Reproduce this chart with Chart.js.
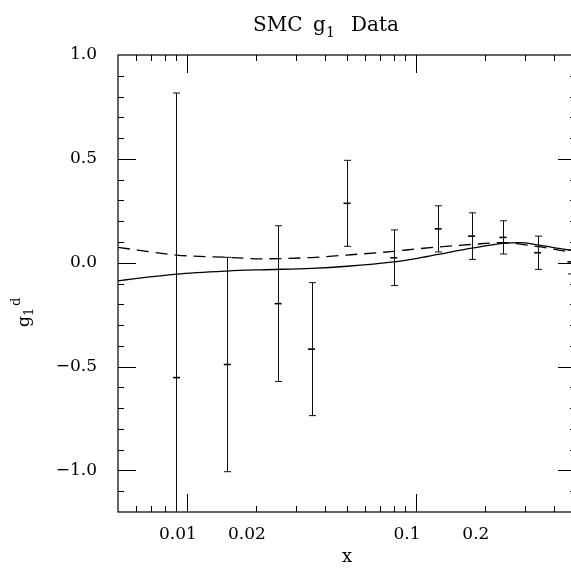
<!DOCTYPE html>
<html lang="en">
<head>
  <meta charset="UTF-8" />
  <title>SMC g1 Data</title>
  <style>
    html, body { margin: 0; padding: 0; background: #fff; overflow: hidden; }
    .wrap { width: 571px; height: 571px; overflow: hidden; }
  </style>
</head>
<body>
  <div class="wrap"><canvas id="chart" width="590" height="571"></canvas></div>

  <script src="https://cdn.jsdelivr.net/npm/chart.js"></script>
  <script>
    // SMC deuteron data: x, g1 and error
    const xData = [0.009, 0.015, 0.025, 0.035, 0.05, 0.08, 0.125, 0.175, 0.24, 0.34, 0.475];
    const g1Data = [-0.553, -0.49, -0.197, -0.416, 0.286, 0.024, 0.163, 0.128, 0.122, 0.048, 0.004];
    const g1Err = [1.37, 0.516, 0.375, 0.32, 0.207, 0.134, 0.111, 0.112, 0.08, 0.08, 0.058];

    // model curves
    const curveX = [0.005, 0.009, 0.015, 0.021, 0.035, 0.05, 0.08, 0.1, 0.125, 0.175, 0.24, 0.285, 0.34, 0.4, 0.475, 0.5];
    const solidCurve = [-0.087, -0.055, -0.04, -0.034, -0.027, -0.017, 0.004, 0.02, 0.04, 0.07, 0.093, 0.097, 0.086, 0.073, 0.06, 0.055];
    const dashedCurve = [0.074, 0.037, 0.026, 0.019, 0.025, 0.037, 0.055, 0.066, 0.076, 0.088, 0.097, 0.09, 0.078, 0.066, 0.05, 0.045];

    const xTickLabels = [0.01, 0.02, 0.1, 0.2];
    const yTickLabels = [-1.0, -0.5, 0.0, 0.5, 1.0];

    const X_MIN = 0.005, X_MAX = 0.5, Y_MIN = -1.2, Y_MAX = 1.0;
    const FONT = '"DejaVu Serif", "Liberation Serif", serif';

    const toPts = (xs, ys) => xs.map((x, i) => ({ x: x, y: ys[i] }));

    // frame, inward ticks, error bars, title and y label
    const decorPlugin = {
      id: 'decor',
      afterDatasetsDraw(chart) {
        const ctx = chart.ctx;
        const a = chart.chartArea;
        const xs = chart.scales.x, ys = chart.scales.y;
        ctx.save();

        // error bars
        ctx.beginPath();
        ctx.rect(a.left, a.top, a.right - a.left, a.bottom - a.top);
        ctx.clip();
        ctx.strokeStyle = '#111';
        ctx.lineWidth = 1;
        xData.forEach((xv, i) => {
          const px = Math.round(xs.getPixelForValue(xv)) + 0.5;
          const hi = g1Data[i] + g1Err[i], lo = g1Data[i] - g1Err[i];
          const pTop = ys.getPixelForValue(hi), pBot = ys.getPixelForValue(lo);
          ctx.beginPath();
          ctx.moveTo(px, pTop);
          ctx.lineTo(px, pBot);
          if (hi <= Y_MAX) { ctx.moveTo(px - 3.5, pTop); ctx.lineTo(px + 3.5, pTop); }
          if (lo >= Y_MIN) { ctx.moveTo(px - 3.5, pBot); ctx.lineTo(px + 3.5, pBot); }
          ctx.stroke();
        });
        ctx.restore();

        ctx.save();
        ctx.strokeStyle = '#000';
        ctx.lineWidth = 1.2;
        ctx.strokeRect(a.left, a.top, a.right - a.left, a.bottom - a.top);

        // x ticks (log), top and bottom
        ctx.lineWidth = 1;
        ctx.beginPath();
        [0.001, 0.01, 0.1, 1].forEach(d => {
          for (let m = 1; m <= 9; m++) {
            const v = m * d;
            if (v <= X_MIN * 1.0001 || v >= X_MAX * 0.9999) continue;
            const px = Math.round(xs.getPixelForValue(v)) + 0.5;
            const len = m === 1 ? 18 : 6;
            ctx.moveTo(px, a.bottom); ctx.lineTo(px, a.bottom - len);
            ctx.moveTo(px, a.top); ctx.lineTo(px, a.top + len);
          }
        });
        // y ticks, left and right
        for (let k = -12; k <= 10; k++) {
          const v = k / 10;
          if (k === -12 || k === 10) continue;
          const py = Math.round(ys.getPixelForValue(v)) + 0.5;
          const len = k % 5 === 0 ? 18 : 6;
          ctx.moveTo(a.left, py); ctx.lineTo(a.left + len, py);
          ctx.moveTo(a.right, py); ctx.lineTo(a.right - len, py);
        }
        ctx.stroke();

        // title: SMC g_1 Data
        ctx.fillStyle = '#000';
        ctx.textBaseline = 'alphabetic';
        ctx.textAlign = 'left';
        ctx.font = '20px ' + FONT;
        ctx.fillText('SMC', 253, 31);
        ctx.fillText('g', 313, 31);
        ctx.fillText('Data', 351, 31);
        ctx.font = '14px ' + FONT;
        ctx.fillText('1', 326, 37);

        // y label: g_1^d, rotated
        ctx.translate(29, 327);
        ctx.rotate(-Math.PI / 2);
        ctx.font = '17px ' + FONT;
        ctx.fillText('g', 0, 0);
        ctx.font = '13px ' + FONT;
        ctx.fillText('1', 11, 4);
        ctx.fillText('d', 21, -9);
        ctx.restore();
      }
    };

    const ctx = document.getElementById('chart').getContext('2d');
    new Chart(ctx, {
      type: 'scatter',
      data: {
        datasets: [
          {
            label: 'solid',
            data: toPts(curveX, solidCurve),
            showLine: true,
            borderColor: '#000',
            borderWidth: 1.3,
            pointRadius: 0,
            cubicInterpolationMode: 'monotone'
          },
          {
            label: 'dashed',
            data: toPts(curveX, dashedCurve),
            showLine: true,
            borderColor: '#000',
            borderWidth: 1.3,
            borderDash: [12, 7],
            pointRadius: 0,
            cubicInterpolationMode: 'monotone'
          },
          {
            label: 'SMC',
            data: toPts(xData, g1Data),
            showLine: false,
            pointStyle: 'line',
            pointRadius: 3.5,
            borderColor: '#000',
            borderWidth: 1.6
          }
        ]
      },
      options: {
        responsive: false,
        animation: false,
        layout: { padding: { left: 0, right: 14, top: 55, bottom: 0 } },
        plugins: { legend: { display: false }, tooltip: { enabled: false } },
        scales: {
          x: {
            type: 'logarithmic',
            min: X_MIN,
            max: X_MAX,
            grid: { display: false, drawTicks: false },
            border: { display: false },
            afterBuildTicks: s => { s.ticks = xTickLabels.map(v => ({ value: v })); },
            afterFit: s => { s.height = 59; },
            ticks: {
              autoSkip: false,
              maxRotation: 0,
              padding: 12,
              labelOffset: -9,
              color: '#000',
              font: { family: FONT, size: 17 },
              callback: v => String(v)
            },
            title: {
              display: true,
              text: 'x',
              color: '#000',
              font: { family: FONT, size: 18 },
              padding: { top: 0, bottom: 3 }
            }
          },
          y: {
            min: Y_MIN,
            max: Y_MAX,
            grid: { display: false, drawTicks: false },
            border: { display: false },
            afterBuildTicks: s => { s.ticks = yTickLabels.map(v => ({ value: v })); },
            afterFit: s => { s.width = 118; },
            ticks: {
              padding: 21,
              color: '#000',
              font: { family: FONT, size: 17 },
              callback: v => (v < 0 ? '\u2212' : '') + Math.abs(v).toFixed(1)
            }
          }
        }
      },
      plugins: [decorPlugin]
    });
  </script>
</body>
</html>
